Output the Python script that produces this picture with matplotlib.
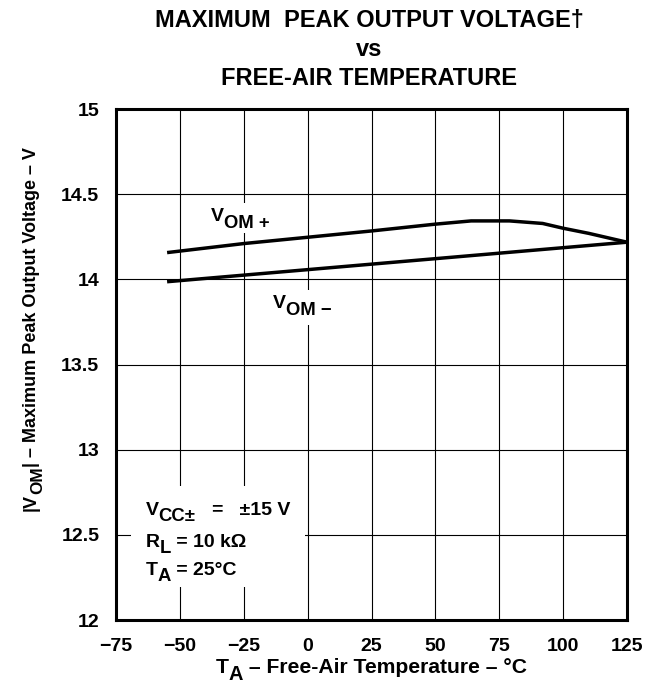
import numpy as np
import matplotlib
matplotlib.use("Agg")
import matplotlib.pyplot as plt
import matplotlib.transforms as mtransforms
from matplotlib.font_manager import FontProperties
from matplotlib.patches import Rectangle

plt.rcParams['font.family'] = ['Liberation Sans', 'DejaVu Sans']
plt.rcParams['font.weight'] = 'bold'

# data
temp_pos = [-55, -25, 0, 25, 50, 64, 79, 92, 100, 110, 125]
vom_pos = [14.157, 14.21, 14.247, 14.284, 14.324, 14.343, 14.343, 14.328, 14.30, 14.27, 14.218]
temp_neg = [-55, 125]
vom_neg = [13.986, 14.218]

xticks = [-75, -50, -25, 0, 25, 50, 75, 100, 125]
xticklabels = ['\u221275', '\u221250', '\u221225', '0', '25', '50', '75', '100', '125']
yticks = [12, 12.5, 13, 13.5, 14, 14.5, 15]
yticklabels = ['12', '12.5', '13', '13.5', '14', '14.5', '15']

fig = plt.figure(figsize=(6.57, 6.86), dpi=100)
ax = fig.add_axes([116 / 657, 1 - 620 / 686, 511 / 657, 511 / 686])
renderer = fig.canvas.get_renderer()


def text_width(s, size):
    # width in points, spaces included
    prop = FontProperties(family='Liberation Sans', weight='bold', size=size)
    w1, _, _ = renderer.get_text_width_height_descent('x' + s + 'x', prop, ismath=False)
    w0, _, _ = renderer.get_text_width_height_descent('xx', prop, ismath=False)
    return (w1 - w0) * 72.0 / fig.dpi


def rich(x, y, pieces, transform, size, rotation=0, center=False):
    # pieces: (text, is_subscript); subscripts nearly full size, lowered
    parts = []
    off = 0.0
    for s, sub in pieces:
        fs = size * 0.95 if sub else size
        drop = size * 0.33 if sub else 0.0
        t = fig.text(x, y, s, fontsize=fs, fontweight='bold', rotation=rotation,
                     rotation_mode='anchor', ha='left', va='baseline', zorder=5)
        parts.append((t, off, drop))
        off += text_width(s, fs)
    shift = -off / 2 if center else 0.0
    for t, o, d in parts:
        if rotation:
            tr = mtransforms.offset_copy(transform, fig=fig, x=d, y=o + shift, units='points')
        else:
            tr = mtransforms.offset_copy(transform, fig=fig, x=o + shift, y=-d, units='points')
        t.set_transform(tr)


ax.set_xlim(-75, 125)
ax.set_ylim(12, 15)
ax.set_xticks(xticks)
ax.set_xticklabels(xticklabels)
ax.set_yticks(yticks)
ax.set_yticklabels(yticklabels)
ax.tick_params(length=0, labelsize=14)
ax.tick_params(axis='x', pad=13)
ax.tick_params(axis='y', pad=12)
ax.set_axisbelow(True)
ax.grid(True, color='black', linewidth=0.8)
for sp in ax.spines.values():
    sp.set_linewidth(2.2)

ax.plot(temp_pos, vom_pos, color='black', linewidth=2.5, solid_capstyle='butt', zorder=3)
ax.plot(temp_neg, vom_neg, color='black', linewidth=2.5, solid_capstyle='butt', zorder=3)

# white patches behind the labels (they hide the grid in the reference)
ax.add_patch(Rectangle((-40, 14.27), 22, 0.18, facecolor='white', edgecolor='none', zorder=1))
ax.add_patch(Rectangle((-15, 13.73), 24, 0.21, facecolor='white', edgecolor='none', zorder=1))
ax.add_patch(Rectangle((-69.3, 12.196), 68.4, 0.588, facecolor='white', edgecolor='none', zorder=1))

rich(-37.8, 14.34, [('V', False), ('OM +', True)], ax.transData, 14)
rich(-13.5, 13.83, [('V', False), ('OM \u2212', True)], ax.transData, 14)
rich(-63.4, 12.618, [('V', False), ('CC\u00b1', True), ('   =   \u00b115 V', False)], ax.transData, 14)
rich(-63.4, 12.431, [('R', False), ('L', True), (' = 10 k\u03a9', False)], ax.transData, 14)
rich(-63.4, 12.265, [('T', False), ('A', True), (' = 25\u00b0C', False)], ax.transData, 14)

# axis labels
rich(371 / 657, 1 - 673 / 686, [('T', False), ('A', True), (' \u2013 Free-Air Temperature \u2013 \u00b0C', False)],
     fig.transFigure, 15.2, center=True)
rich(36 / 657, 1 - 329 / 686, [('|V', False), ('OM', True), ('| \u2013 Maximum Peak Output Voltage \u2013 V', False)],
     fig.transFigure, 13, rotation=90, center=True)

fig.text(369 / 657, 1 - 27 / 686, 'MAXIMUM  PEAK OUTPUT VOLTAGE\u2020', ha='center', va='baseline', fontsize=17)
fig.text(369 / 657, 1 - 56.5 / 686, 'vs', ha='center', va='baseline', fontsize=17)
fig.text(369 / 657, 1 - 85 / 686, 'FREE-AIR TEMPERATURE', ha='center', va='baseline', fontsize=17)

fig.savefig('out.png', dpi=100)
